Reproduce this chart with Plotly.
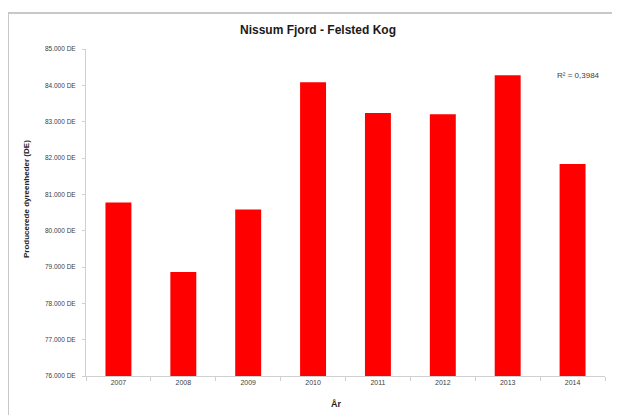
import plotly.graph_objects as go

years = ["2007", "2008", "2009", "2010", "2011", "2012", "2013", "2014"]
values = [80777, 78863, 80585, 84082, 83239, 83203, 84275, 81838]
y_tick_vals = [76000, 77000, 78000, 79000, 80000, 81000, 82000, 83000, 84000, 85000]
y_tick_text = ["76.000 DE", "77.000 DE", "78.000 DE", "79.000 DE", "80.000 DE",
               "81.000 DE", "82.000 DE", "83.000 DE", "84.000 DE", "85.000 DE"]
title_text = "Nissum Fjord - Felsted Kog"
x_title = "År"
y_title = "Producerede dyreenheder (DE)"
r2_text = "R² = 0,3984"

# page has an 8px body margin: figure coords = screen coords - 8
OFF = 8
L, T, PW, PH = 86 - OFF, 49 - OFF, 519, 327
FW, FH = 620 - OFF, 415 - OFF

def px(x):
    return (x - OFF - L) / PW

def py(y):
    return (T + PH - (y - OFF)) / PH

fig = go.Figure(go.Bar(x=years, y=values, marker=dict(color="#FF0000", line=dict(width=0)),
                       width=0.4))

font_family = "Liberation Sans, Arial, sans-serif"
fig.update_layout(
    width=FW, height=FH,
    margin=dict(l=L, r=FW - L - PW, t=T, b=FH - T - PH),
    paper_bgcolor="white", plot_bgcolor="white",
    showlegend=False,
    font=dict(family=font_family, color="#404040"),
    bargap=0.6,
)
fig.add_annotation(text="<b>" + title_text + "</b>", xref="paper", yref="paper",
                   x=px(318), y=py(30), xanchor="center", yanchor="middle", showarrow=False,
                   font=dict(size=12, color="#1a1a1a", family=font_family))
fig.update_xaxes(
    type="category", showgrid=False, showline=True, linecolor="#d0d0d0", linewidth=1,
    ticks="outside", tickson="boundaries", ticklen=4, tickcolor="#d0d0d0",
    tickfont=dict(size=7, color="#404040"),
)
fig.update_yaxes(
    range=[76000, 85000], showgrid=False, showline=True, linecolor="#d0d0d0", linewidth=1,
    ticks="outside", ticklen=3, tickcolor="#d0d0d0",
    tickvals=y_tick_vals, ticktext=y_tick_text, ticklabelstandoff=5,
    tickfont=dict(size=6.5, color="#404040"),
    zeroline=False,
)
fig.add_annotation(text="<b>" + x_title + "</b>", xref="paper", yref="paper",
                   x=px(336), y=py(404), xanchor="center", yanchor="middle", showarrow=False,
                   font=dict(size=9, color="#222222"))
fig.add_annotation(text="<b>" + y_title + "</b>", xref="paper", yref="paper",
                   x=px(26), y=py(199), xanchor="center", yanchor="middle",
                   textangle=-90, showarrow=False, font=dict(size=8, color="#222222"))
fig.add_annotation(text=r2_text, xref="paper", yref="paper", x=px(555), y=py(75),
                   xanchor="left", yanchor="middle", showarrow=False,
                   font=dict(size=8, color="#404040"))
# outer chart frame (top and left edges visible)
fig.add_shape(type="line", xref="paper", yref="paper", x0=px(8), x1=px(640), y0=py(13), y1=py(13),
              line=dict(color="#c8c8c8", width=2))
fig.add_shape(type="line", xref="paper", yref="paper", x0=px(8), x1=px(8), y0=py(13), y1=py(430),
              line=dict(color="#c8c8c8", width=2))

fig.write_html("out.html")
